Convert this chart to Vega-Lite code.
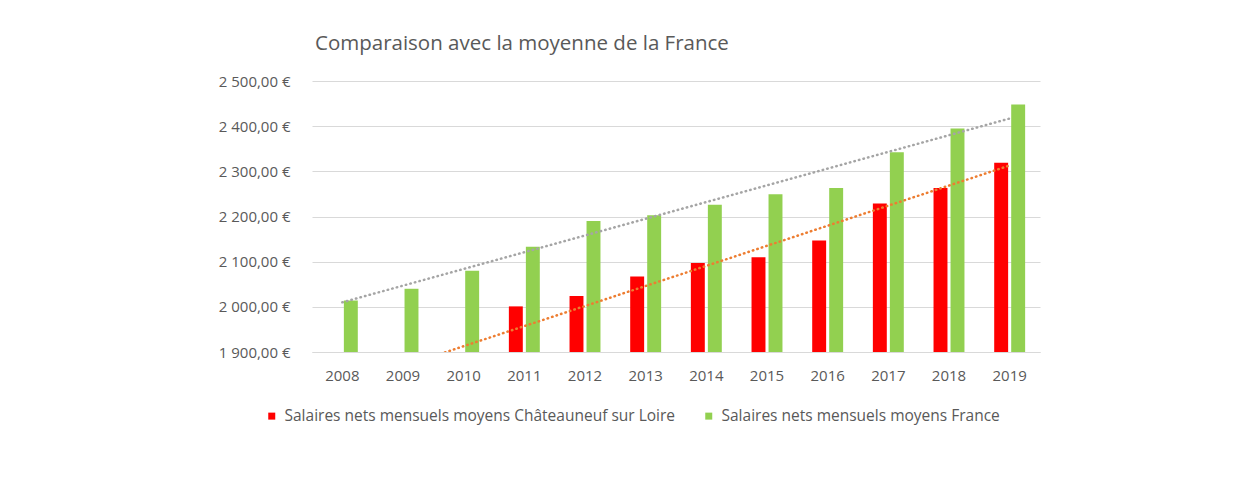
{
  "$schema": "https://vega.github.io/schema/vega-lite/v6.json",
  "width": 728,
  "height": 271,
  "autosize": {"type": "none"},
  "padding": {"left": 312, "top": 81, "right": 213, "bottom": 131},
  "background": "white",
  "config": {
    "font": "Open Sans",
    "view": {"stroke": null},
    "axis": {"labelColor": "#595959", "labelFont": "Open Sans", "labelFontSize": 15}
  },
  "title": {
    "text": "Comparaison avec la moyenne de la France",
    "anchor": "start",
    "frame": "group",
    "font": "Open Sans",
    "fontSize": 20.5,
    "fontWeight": "normal",
    "color": "#595959",
    "offset": 20,
    "dx": 3
  },
  "datasets": {
    "bars": [
      {"annee": "2008", "serie": "Salaires nets mensuels moyens France", "salaire": 2014},
      {"annee": "2009", "serie": "Salaires nets mensuels moyens France", "salaire": 2040},
      {"annee": "2010", "serie": "Salaires nets mensuels moyens France", "salaire": 2080},
      {"annee": "2011", "serie": "Salaires nets mensuels moyens France", "salaire": 2133},
      {"annee": "2012", "serie": "Salaires nets mensuels moyens France", "salaire": 2190},
      {"annee": "2013", "serie": "Salaires nets mensuels moyens France", "salaire": 2203},
      {"annee": "2014", "serie": "Salaires nets mensuels moyens France", "salaire": 2226},
      {"annee": "2015", "serie": "Salaires nets mensuels moyens France", "salaire": 2249},
      {"annee": "2016", "serie": "Salaires nets mensuels moyens France", "salaire": 2263},
      {"annee": "2017", "serie": "Salaires nets mensuels moyens France", "salaire": 2342},
      {"annee": "2018", "serie": "Salaires nets mensuels moyens France", "salaire": 2395},
      {"annee": "2019", "serie": "Salaires nets mensuels moyens France", "salaire": 2448},
      {"annee": "2011", "serie": "Salaires nets mensuels moyens Châteauneuf sur Loire", "salaire": 2001},
      {"annee": "2012", "serie": "Salaires nets mensuels moyens Châteauneuf sur Loire", "salaire": 2024},
      {"annee": "2013", "serie": "Salaires nets mensuels moyens Châteauneuf sur Loire", "salaire": 2067},
      {"annee": "2014", "serie": "Salaires nets mensuels moyens Châteauneuf sur Loire", "salaire": 2097},
      {"annee": "2015", "serie": "Salaires nets mensuels moyens Châteauneuf sur Loire", "salaire": 2110},
      {"annee": "2016", "serie": "Salaires nets mensuels moyens Châteauneuf sur Loire", "salaire": 2147},
      {"annee": "2017", "serie": "Salaires nets mensuels moyens Châteauneuf sur Loire", "salaire": 2229},
      {"annee": "2018", "serie": "Salaires nets mensuels moyens Châteauneuf sur Loire", "salaire": 2263},
      {"annee": "2019", "serie": "Salaires nets mensuels moyens Châteauneuf sur Loire", "salaire": 2319}
    ],
    "tendances": [
      {"annee": "2008", "courbe": "Tendance France", "salaire": 2010},
      {"annee": "2019", "courbe": "Tendance France", "salaire": 2417},
      {"annee": "2008", "courbe": "Tendance Châteauneuf", "salaire": 1824},
      {"annee": "2019", "courbe": "Tendance Châteauneuf", "salaire": 2313}
    ]
  },
  "layer": [
    {
      "data": {"name": "bars"},
      "mark": {"type": "bar"},
      "encoding": {
        "x": {
          "field": "annee",
          "type": "nominal",
          "sort": null,
          "scale": {"domain": ["2008","2009","2010","2011","2012","2013","2014","2015","2016","2017","2018","2019"], "paddingInner": 0.49, "paddingOuter": 0.245},
          "axis": {"title": null, "labelAngle": 0, "ticks": false, "domain": true, "domainColor": "#D9D9D9", "labelPadding": 16}
        },
        "xOffset": {
          "field": "serie",
          "type": "nominal",
          "scale": {"domain": ["Salaires nets mensuels moyens Châteauneuf sur Loire", "Salaires nets mensuels moyens France"], "paddingInner": 0.18, "paddingOuter": 0}
        },
        "y": {
          "field": "salaire",
          "type": "quantitative",
          "scale": {"domain": [1900, 2500], "zero": false, "nice": false},
          "axis": {
            "title": null,
            "values": [1900, 2000, 2100, 2200, 2300, 2400, 2500],
            "labelExpr": "replace(replace(format(datum.value, ',.2f'), ',', ' '), '.', ',') + ' €'",
            "domain": false,
            "ticks": false,
            "grid": true,
            "gridColor": "#D9D9D9",
            "labelPadding": 22
          }
        },
        "y2": {"datum": 1900},
        "color": {
          "field": "serie",
          "type": "nominal",
          "scale": {"domain": ["Salaires nets mensuels moyens Châteauneuf sur Loire", "Salaires nets mensuels moyens France"], "range": ["#FF0000", "#92D050"]},
          "legend": {
            "title": null,
            "orient": "none",
            "direction": "horizontal",
            "legendX": -48,
            "legendY": 327,
            "symbolType": "square",
            "symbolSize": 49,
            "symbolStrokeWidth": 0,
            "labelFont": "Open Sans",
            "labelFontSize": 15.5,
            "labelColor": "#595959",
            "labelOffset": 5,
            "columnPadding": 26,
            "labelLimit": 600
          }
        }
      }
    },
    {
      "data": {"name": "tendances"},
      "mark": {"type": "line", "clip": true, "strokeDash": [0.5, 4.2], "strokeCap": "round", "strokeWidth": 2.5},
      "encoding": {
        "x": {"field": "annee", "type": "nominal", "sort": null},
        "y": {"field": "salaire", "type": "quantitative"},
        "detail": {"field": "courbe"},
        "stroke": {
          "field": "courbe",
          "type": "nominal",
          "scale": {"domain": ["Tendance France", "Tendance Châteauneuf"], "range": ["#A5A5A5", "#ED7D31"]},
          "legend": null
        }
      }
    }
  ]
}
